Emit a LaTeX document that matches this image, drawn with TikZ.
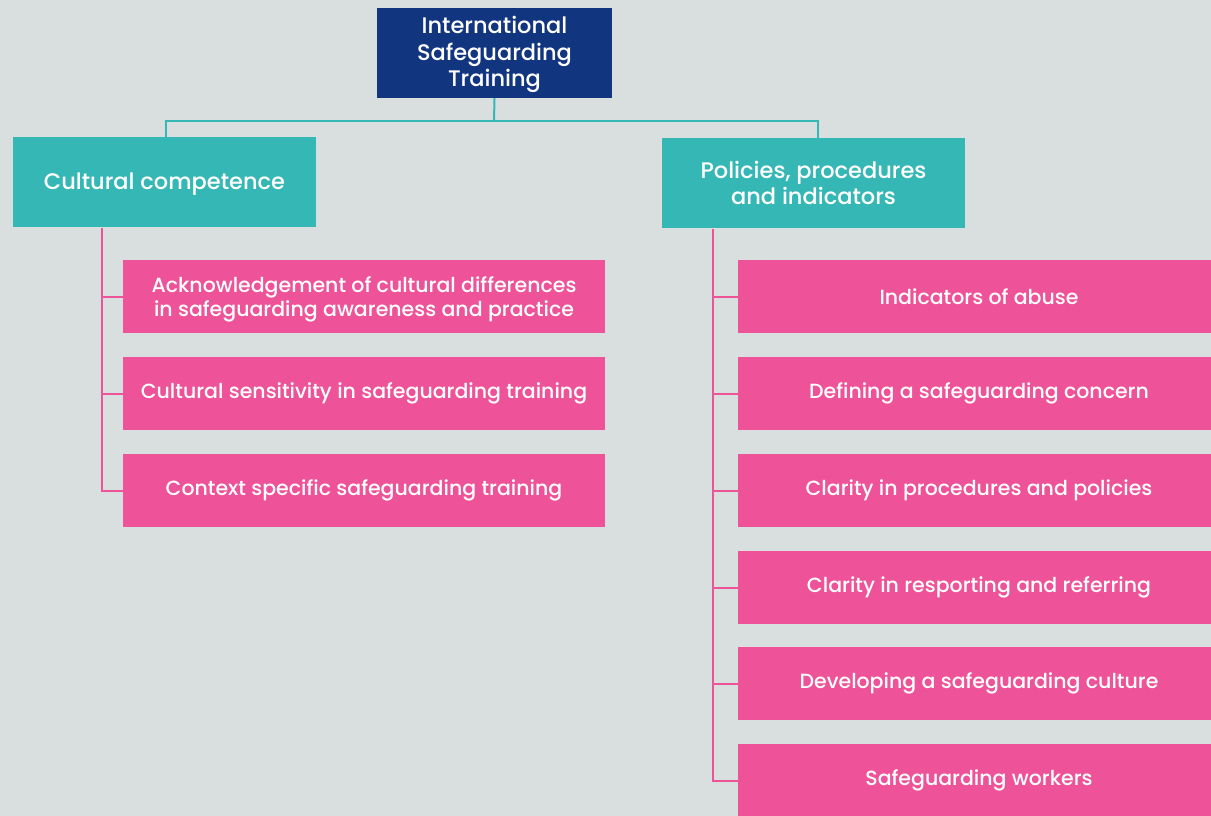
\documentclass[tikz,border=0pt]{standalone}
\usepackage{fontspec}
\setmainfont{Poppins}[BoldFont={Poppins Medium}]
\definecolor{bgc}{HTML}{D9DFDF}
\definecolor{navy}{HTML}{12357F}
\definecolor{tealc}{HTML}{35B8B5}
\definecolor{pinkc}{HTML}{EE5298}
\tikzset{
  topbox/.style={fill=navy, text=white, minimum width=235, minimum height=90, align=center, inner sep=0, font=\bfseries\fontsize{22.5}{26.5}\selectfont},
  groupbox/.style={fill=tealc, text=white, minimum width=303, minimum height=90, align=center, inner sep=0, font=\bfseries\fontsize{22.5}{26.5}\selectfont},
  itembox/.style={fill=pinkc, text=white, minimum width=482, minimum height=73, align=center, inner sep=0, font=\bfseries\fontsize{20.5}{24}\selectfont},
  tealline/.style={draw=tealc, line width=2},
  pinkline/.style={draw=pinkc, line width=2},
}
\begin{document}
\begin{tikzpicture}[x=1pt,y=-1pt]
\fill[bgc] (0,0) rectangle (1211,816);
\useasboundingbox (0,0) rectangle (1211,816);

% root and the two groups
\node[topbox, text depth=3] (top) at (494.5,53) {International\\Safeguarding\\Training};
\node[groupbox, text height=15, text depth=0] (cc) at (164.5,182) {Cultural competence};
\node[groupbox] (pp) at (813.5,183) {Policies, procedures\\and indicators};

\coordinate (bus) at (494,121);
\draw[tealline] (top.south) -- (bus);
\draw[tealline] (bus) -| ([xshift=1.5]cc.north);
\draw[tealline] (bus) -| ([xshift=4.5]pp.north);

% cultural competence items
\node[itembox, text depth=0] (a1) at (364,296.5) {Acknowledgement of cultural differences\\in safeguarding awareness and practice};
\node[itembox] (a2) at (364,393.5) {Cultural sensitivity in safeguarding training};
\node[itembox] (a3) at (364,490.5) {Context specific safeguarding training};

\coordinate (lt) at (102,228);
\draw[pinkline] (lt) |- (a3.west);
\draw[pinkline] (lt |- a1.west) -- (a1.west);
\draw[pinkline] (lt |- a2.west) -- (a2.west);

% policies items
\node[itembox] (b1) at (979,296.5) {Indicators of abuse};
\node[itembox] (b2) at (979,393.5) {Defining a safeguarding concern};
\node[itembox] (b3) at (979,490.5) {Clarity in procedures and policies};
\node[itembox] (b4) at (979,587.5) {Clarity in resporting and referring};
\node[itembox] (b5) at (979,683.5) {Developing a safeguarding culture};
\node[itembox] (b6) at (979,780.5) {Safeguarding workers};

\coordinate (rt) at (713,229);
\draw[pinkline] (rt) |- (b6.west);
\foreach \n in {b1,b2,b3,b4,b5}
  \draw[pinkline] (rt |- \n.west) -- (\n.west);
\end{tikzpicture}
\end{document}
